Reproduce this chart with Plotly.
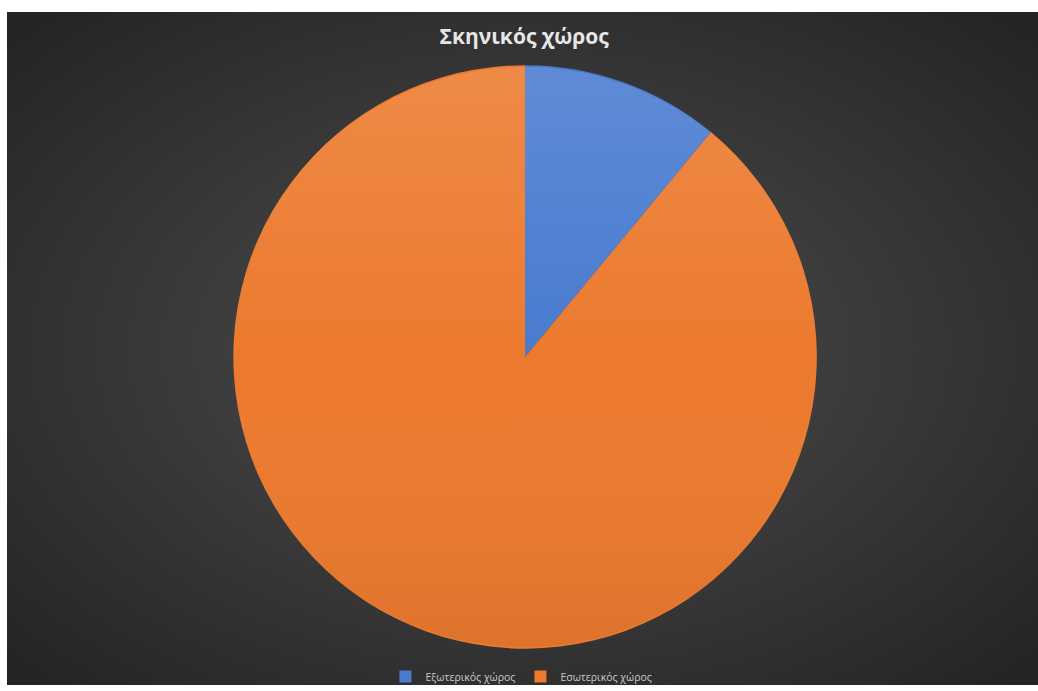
import base64
import plotly.graph_objects as go

# Share of scenes by setting
labels = ["Εξωτερικός χώρος", "Εσωτερικός χώρος"]
values = [11, 89]
colors = ["#4a7bd0", "#ec7a2e"]
title_text = "Σκηνικός χώρος"

W, H = 1038, 691
M_L, M_T = 7, 12
PW, PH = W - M_L, H - M_T
dom_x = [0.2, 0.805]
dom_y = [0.054, 0.921]


def svg_uri(svg):
    return "data:image/svg+xml;base64," + base64.b64encode(svg.encode()).decode()


# Dark radial-gradient backdrop
bg_svg = (
    f'<svg xmlns="http://www.w3.org/2000/svg" width="{PW}" height="{PH}" '
    f'preserveAspectRatio="none" viewBox="0 0 {PW} {PH}">'
    '<defs><radialGradient id="g" cx="50%" cy="50%" r="70%">'
    '<stop offset="0%" stop-color="#4f4f4f"/>'
    '<stop offset="100%" stop-color="#232323"/>'
    '</radialGradient></defs>'
    f'<rect width="{PW}" height="{PH}" fill="url(#g)"/></svg>'
)

# Soft vertical shading laid over the pie disc
shade_svg = (
    '<svg xmlns="http://www.w3.org/2000/svg" width="200" height="200" viewBox="0 0 200 200">'
    '<defs><linearGradient id="s" x1="0" y1="0" x2="0" y2="1">'
    '<stop offset="0%" stop-color="#ffffff" stop-opacity="0.12"/>'
    '<stop offset="50%" stop-color="#ffffff" stop-opacity="0"/>'
    '<stop offset="100%" stop-color="#000000" stop-opacity="0.06"/>'
    '</linearGradient></defs>'
    '<circle cx="100" cy="100" r="99.4" fill="url(#s)"/></svg>'
)

# Pie geometry in paper units, used to place the shading
r_px = min((dom_x[1] - dom_x[0]) * PW, (dom_y[1] - dom_y[0]) * PH) / 2
cx = (dom_x[0] + dom_x[1]) / 2
cy = (dom_y[0] + dom_y[1]) / 2

fig = go.Figure(
    go.Pie(
        labels=labels,
        values=values,
        sort=False,
        direction="clockwise",
        rotation=0,
        textinfo="none",
        hoverinfo="label+value+percent",
        marker=dict(colors=colors, line=dict(width=0)),
        domain=dict(x=dom_x, y=dom_y),
    )
)

fig.update_layout(
    width=W,
    height=H,
    margin=dict(l=M_L, r=0, t=M_T, b=0),
    paper_bgcolor="white",
    plot_bgcolor="rgba(0,0,0,0)",
    images=[
        dict(
            source=svg_uri(bg_svg),
            xref="paper", yref="paper",
            x=0, y=1, sizex=1, sizey=1,
            xanchor="left", yanchor="top",
            sizing="stretch", layer="below",
        ),
        dict(
            source=svg_uri(shade_svg),
            xref="paper", yref="paper",
            x=cx, y=cy, sizex=2 * r_px / PW, sizey=2 * r_px / PH,
            xanchor="center", yanchor="middle",
            sizing="stretch", layer="above",
        ),
    ],
    title=dict(
        text=f"<b>{title_text}</b>",
        x=0.505, xref="container", xanchor="center",
        y=1 - 37 / H, yref="container", yanchor="middle",
        font=dict(family="Open Sans, sans-serif", size=21, color="#e6e6e6"),
    ),
    legend=dict(
        orientation="h",
        x=0.499, xanchor="center",
        y=0.012, yanchor="middle",
        font=dict(family="Open Sans, sans-serif", size=10.5, color="#c8c8c8"),
        bgcolor="rgba(0,0,0,0)",
        itemwidth=30,
    ),
)

fig.write_html("out.html")
